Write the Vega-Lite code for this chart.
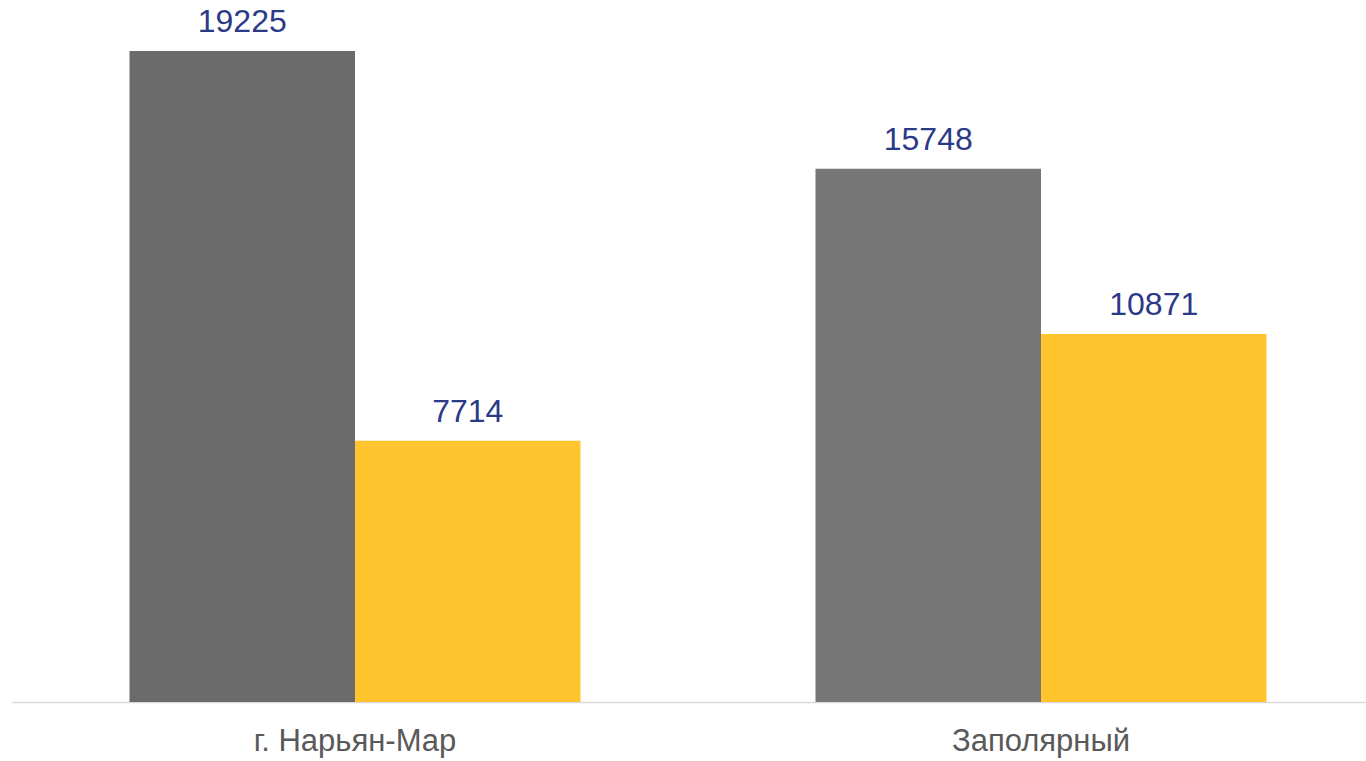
{
  "$schema": "https://vega.github.io/schema/vega-lite/v6.json",
  "width": 1372,
  "height": 702,
  "autosize": {"type": "none"},
  "padding": {"left": 12, "top": 0, "right": 0, "bottom": 59},
  "background": "white",
  "config": {"view": {"stroke": null}, "font": "Liberation Sans"},
  "data": {
    "values": [
      {"city": "г. Нарьян-Мар", "series": "Серия 1", "value": 19225},
      {"city": "г. Нарьян-Мар", "series": "Серия 2", "value": 7714},
      {"city": "Заполярный", "series": "Серия 1", "value": 15748},
      {"city": "Заполярный", "series": "Серия 2", "value": 10871}
    ]
  },
  "transform": [{"calculate": "datum.city + ' | ' + datum.series", "as": "key"}],
  "encoding": {
    "x": {
      "field": "city",
      "type": "nominal",
      "sort": null,
      "title": null,
      "scale": {"paddingInner": 0, "paddingOuter": 0},
      "axis": {
        "domainColor": "#D9D9D9",
        "domainWidth": 1.5,
        "ticks": false,
        "labelAngle": 0,
        "labelFont": "Liberation Sans",
        "labelFontSize": 31,
        "labelLimit": 500,
        "labelColor": "#595959",
        "labelPadding": 24
      }
    },
    "xOffset": {
      "field": "series",
      "type": "nominal",
      "scale": {"paddingInner": 0, "paddingOuter": 0.521}
    },
    "y": {
      "field": "value",
      "type": "quantitative",
      "scale": {"domain": [0, 20731], "nice": false, "zero": true},
      "axis": null
    }
  },
  "layer": [
    {
      "mark": {"type": "bar"},
      "encoding": {
        "color": {
          "field": "key",
          "type": "nominal",
          "legend": null,
          "scale": {
            "domain": ["г. Нарьян-Мар | Серия 1", "г. Нарьян-Мар | Серия 2", "Заполярный | Серия 1", "Заполярный | Серия 2"],
            "range": ["#6B6B6B", "#FFC42E", "#767676", "#FFC42E"]
          }
        }
      }
    },
    {
      "mark": {
        "type": "text",
        "baseline": "bottom",
        "dy": -12,
        "font": "Liberation Sans",
        "fontSize": 32,
        "color": "#2B3A86"
      },
      "encoding": {"text": {"field": "value", "type": "quantitative", "format": "d"}}
    }
  ]
}
